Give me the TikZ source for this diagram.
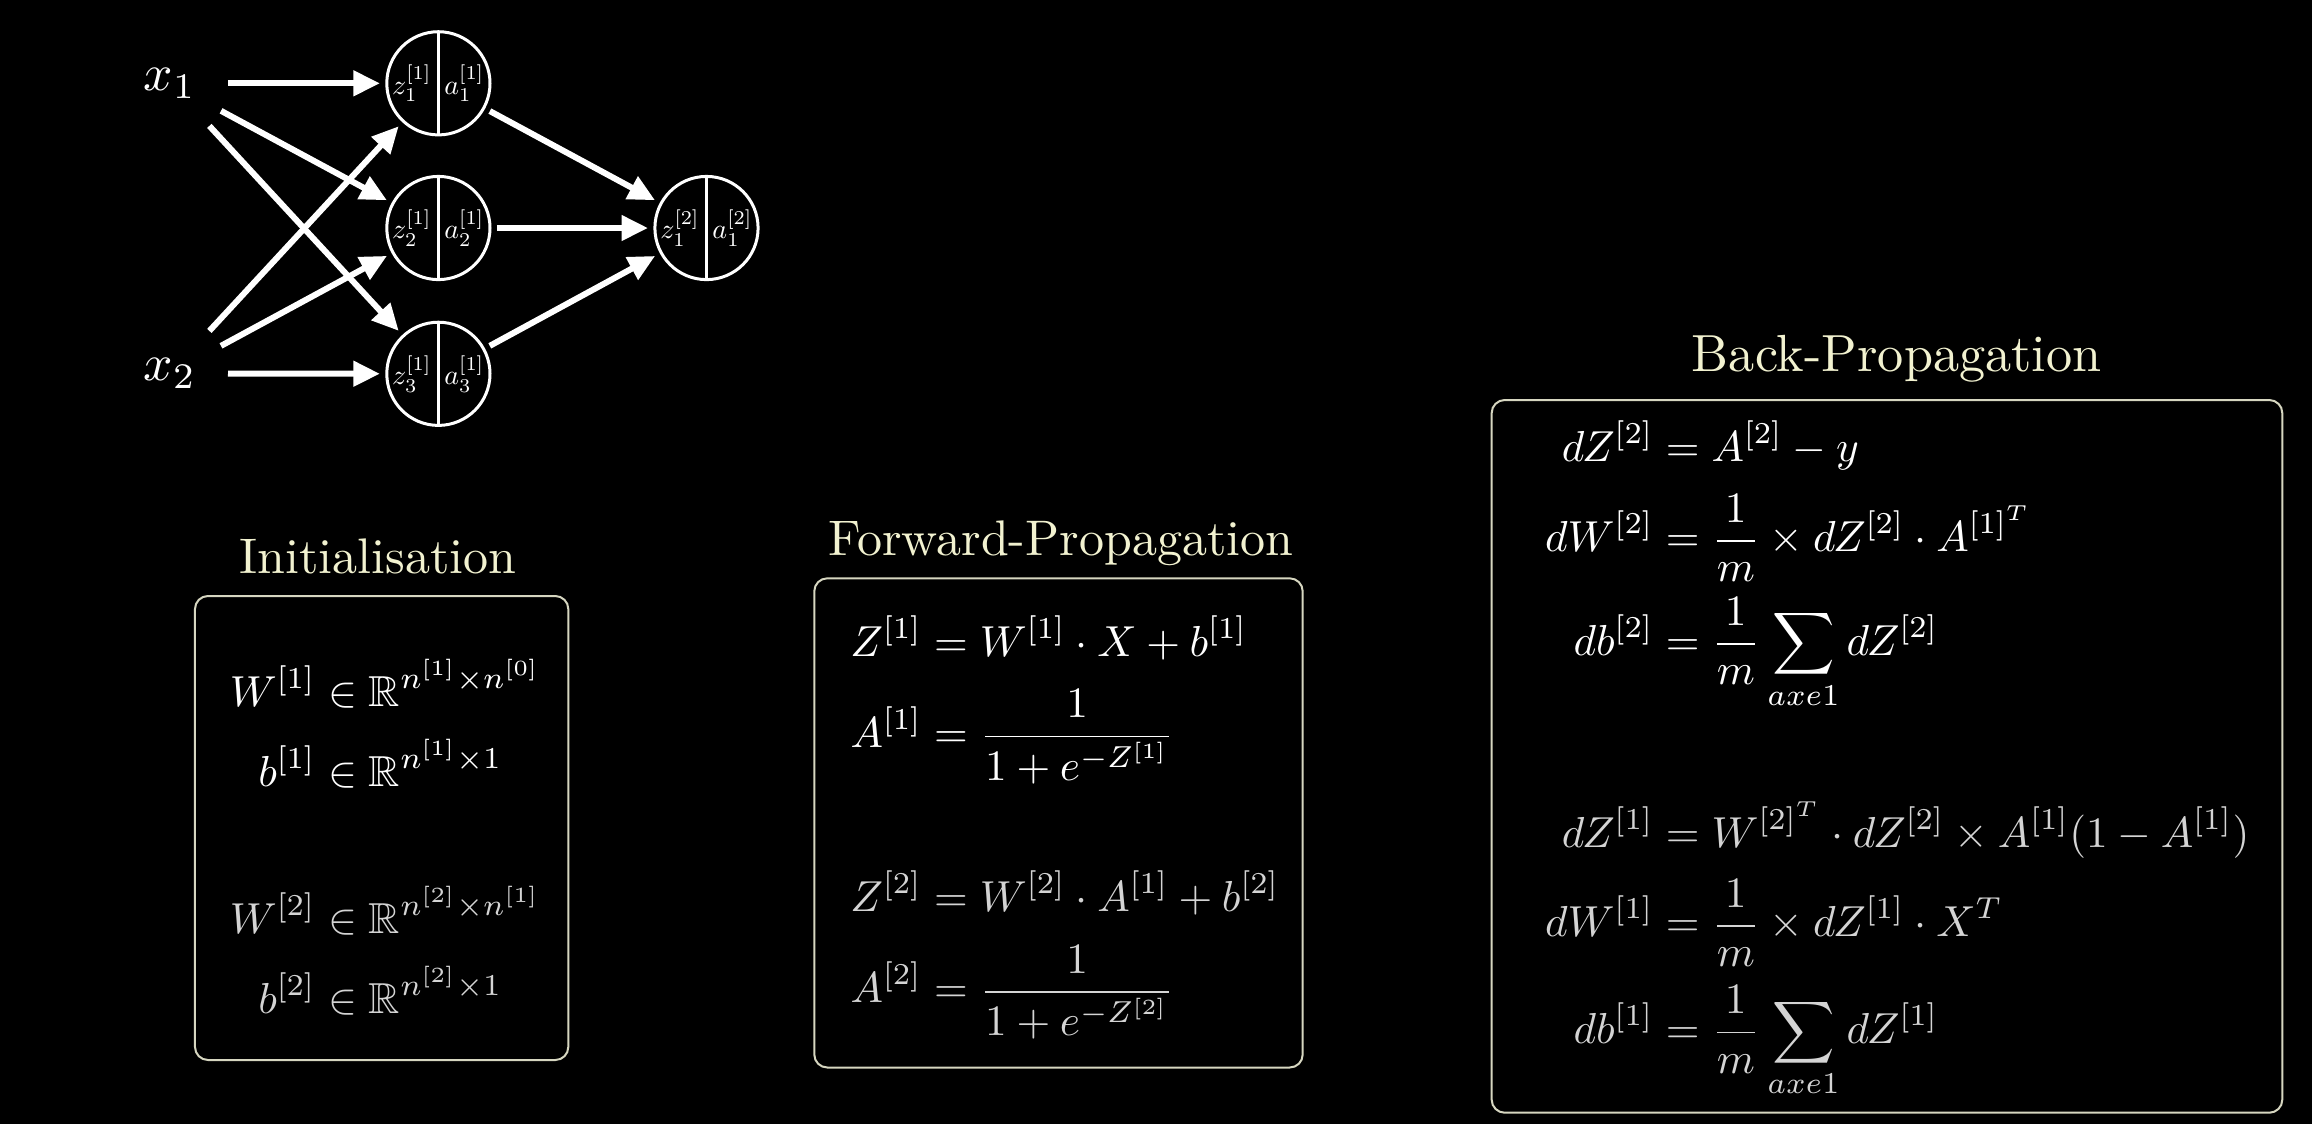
\documentclass[tikz,border=0pt]{standalone}
\usepackage{amsmath,amssymb}
\usepackage{graphicx}
\usetikzlibrary{arrows.meta}
\definecolor{titlecol}{RGB}{242,242,208}
\definecolor{boxcol}{RGB}{214,214,192}
\definecolor{dimtext}{RGB}{212,212,212}
\newcommand{\mq}[1]{\scalebox{0.867}{$\displaystyle #1$}}
\begin{document}
\begin{tikzpicture}[x=0.2pt,y=-0.2pt,
  every node/.style={inner sep=0pt, outer sep=0pt},
  neuron/.style={circle, draw=white, line width=0.6pt, minimum size=20.64pt, outer sep=1.38pt,
    path picture={\draw[white,line width=0.6pt] (path picture bounding box.north) -- (path picture bounding box.south);}},
  inp/.style={circle, minimum size=23.2pt, text=white},
  lbl/.style={text=white},
  conn/.style={white, line width=1.2pt, -{Triangle[length=5.3pt,width=4.9pt]}},
  panel/.style={rectangle, draw=boxcol, line width=0.4pt, rounded corners=2.6pt},
  ttl/.style={text=titlecol, anchor=base},
  lhs/.style={anchor=base east, text=white},
  rhs/.style={anchor=base west, text=white},
  dim/.style={text=dimtext}
]
\fill[black] (0,0) rectangle (2312,1124);
\useasboundingbox (0,0) rectangle (2312,1124);

% ---------- network ----------
\node[inp] (x1) at (170,83.3) {\scalebox{1.03}{$x_1$}};
\node[inp] (x2) at (170,373.5) {\scalebox{1.03}{$x_2$}};
\node[neuron] (c1) at (438.4,83.3) {};
\node[neuron] (c2) at (438.4,228) {};
\node[neuron] (c3) at (438.4,373.8) {};
\node[neuron] (o1) at (706.5,228) {};

\node[lbl] (c1z) at ([xshift=-5.3pt]c1.center) {\scalebox{0.56}{$z_1^{[1]}$}};
\node[lbl] (c1a) at ([xshift=5.2pt]c1.center) {\scalebox{0.56}{$a_1^{[1]}$}};
\node[lbl] (c2z) at ([xshift=-5.3pt]c2.center) {\scalebox{0.56}{$z_2^{[1]}$}};
\node[lbl] (c2a) at ([xshift=5.2pt]c2.center) {\scalebox{0.56}{$a_2^{[1]}$}};
\node[lbl] (c3z) at ([xshift=-5.3pt]c3.center) {\scalebox{0.56}{$z_3^{[1]}$}};
\node[lbl] (c3a) at ([xshift=5.2pt]c3.center) {\scalebox{0.56}{$a_3^{[1]}$}};
\node[lbl] (o1z) at ([xshift=-5.3pt]o1.center) {\scalebox{0.56}{$z_1^{[2]}$}};
\node[lbl] (o1a) at ([xshift=5.2pt]o1.center) {\scalebox{0.56}{$a_1^{[2]}$}};

\draw[conn] (x1) -- (c1);
\draw[conn] (x1) -- (c2);
\draw[conn] (x1) -- (c3);
\draw[conn] (x2) -- (c1);
\draw[conn] (x2) -- (c2);
\draw[conn] (x2) -- (c3);
\draw[conn] (c1) -- (o1);
\draw[conn] (c2) -- (o1);
\draw[conn] (c3) -- (o1);

% ---------- Initialisation ----------
\node[ttl] (tinit) at (378,573.3) {Initialisation};
\node[panel, minimum width=74.66pt, minimum height=92.8pt] (binit) at (381.65,828) {};
\node[lhs] (iW1) at (316,706.7) {\mq{W^{[1]}}};
\node[rhs] (iW1r) at (316,706.7) {\mq{{}\in\mathbb{R}^{n^{[1]}\times n^{[0]}}}};
\node[lhs] (ib1) at (316,786.7) {\mq{b^{[1]}}};
\node[rhs] (ib1r) at (316,786.7) {\mq{{}\in\mathbb{R}^{n^{[1]}\times 1}}};
\node[lhs,dim] (iW2) at (316,933) {\mq{W^{[2]}}};
\node[rhs,dim] (iW2r) at (316,933) {\mq{{}\in\mathbb{R}^{n^{[2]}\times n^{[1]}}}};
\node[lhs,dim] (ib2) at (316,1013) {\mq{b^{[2]}}};
\node[rhs,dim] (ib2r) at (316,1013) {\mq{{}\in\mathbb{R}^{n^{[2]}\times 1}}};

% ---------- Forward ----------
\node[ttl] (tfwd) at (1061,555) {Forward-Propagation};
\node[panel, minimum width=97.68pt, minimum height=97.84pt] (bfwd) at (1058.5,822.9) {};
\node[lhs] (fZ1) at (922.2,656.7) {\mq{Z^{[1]}}};
\node[rhs] (fZ1r) at (922.2,656.7) {\mq{{}= W^{[1]}\cdot X + b^{[1]}}};
\node[lhs] (fA1) at (922.2,747.3) {\mq{A^{[1]}}};
\node[rhs] (fA1r) at (922.2,747.3) {\mq{{}= \frac{1}{1+e^{-Z^{[1]}}}}};
\node[lhs,dim] (fZ2) at (922.2,911.7) {\mq{Z^{[2]}}};
\node[rhs,dim] (fZ2r) at (922.2,911.7) {\mq{{}= W^{[2]}\cdot A^{[1]} + b^{[2]}}};
\node[lhs,dim] (fA2) at (922.2,1002.7) {\mq{A^{[2]}}};
\node[rhs,dim] (fA2r) at (922.2,1002.7) {\mq{{}= \frac{1}{1+e^{-Z^{[2]}}}}};

% ---------- Back ----------
\node[ttl] (tbck) at (1896.7,371.7) {\scalebox{1.045}{Back-Propagation}};
\node[panel, minimum width=158.12pt, minimum height=142.54pt] (bbck) at (1887,756.35) {};
\node[lhs] (bZ2) at (1653.8,461.7) {\mq{dZ^{[2]}}};
\node[rhs] (bZ2r) at (1653.8,461.7) {\mq{{}= A^{[2]} - y}};
\node[lhs] (bW2) at (1653.8,551.7) {\mq{dW^{[2]}}};
\node[rhs] (bW2r) at (1653.8,551.7) {\mq{{}= \frac{1}{m}\times dZ^{[2]}\cdot A^{[1]^T}}};
\node[lhs] (bb2) at (1653.8,655) {\mq{db^{[2]}}};
\node[rhs] (bb2r) at (1653.8,655) {\mq{{}= \frac{1}{m}\sum_{axe1} dZ^{[2]}}};
\node[lhs,dim] (bZ1) at (1653.8,847.3) {\mq{dZ^{[1]}}};
\node[rhs,dim] (bZ1r) at (1653.8,847.3) {\mq{{}= W^{[2]^T}\cdot dZ^{[2]}\times A^{[1]}(1-A^{[1]})}};
\node[lhs,dim] (bW1) at (1653.8,936.7) {\mq{dW^{[1]}}};
\node[rhs,dim] (bW1r) at (1653.8,936.7) {\mq{{}= \frac{1}{m}\times dZ^{[1]}\cdot X^T}};
\node[lhs,dim] (bb1) at (1653.8,1043.3) {\mq{db^{[1]}}};
\node[rhs,dim] (bb1r) at (1653.8,1043.3) {\mq{{}= \frac{1}{m}\sum_{axe1} dZ^{[1]}}};
\end{tikzpicture}
\end{document}
